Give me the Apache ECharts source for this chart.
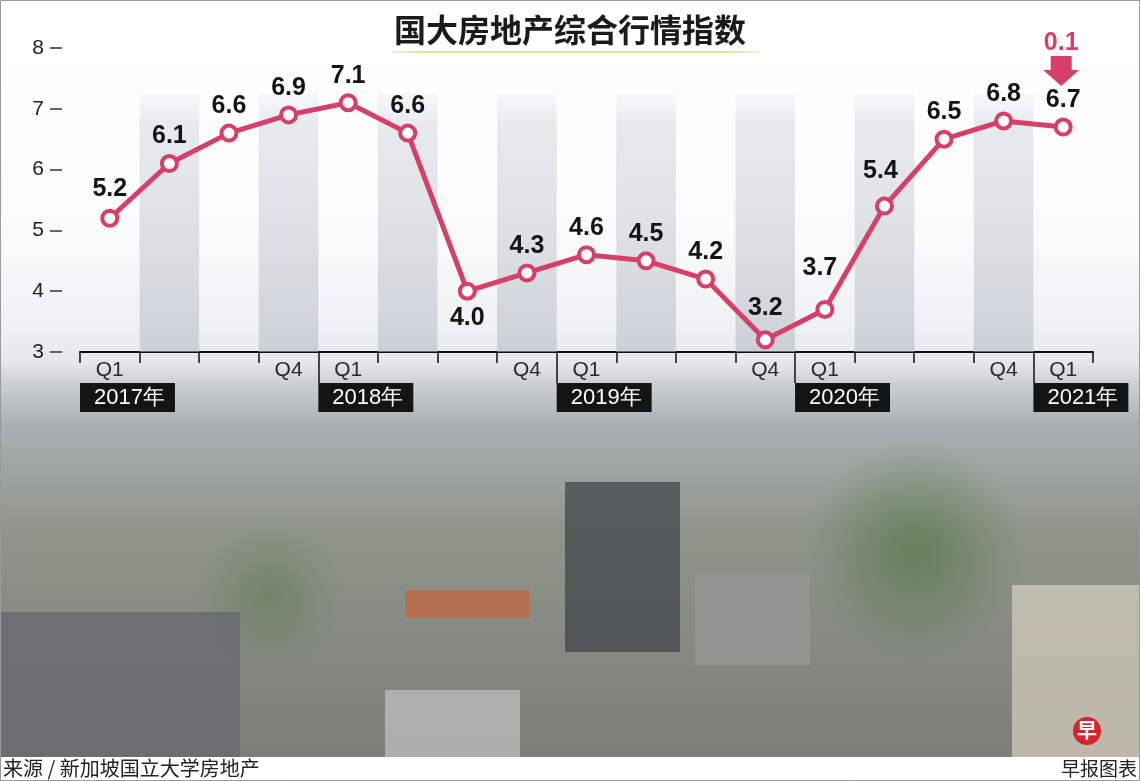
<!DOCTYPE html>
<html>
<head>
<meta charset="utf-8">
<script src="https://cdn.jsdelivr.net/npm/echarts@6/dist/echarts.min.js"></script>
<style>
html,body{margin:0;padding:0;background:#fff;}
#chart{width:1140px;height:781px;}
</style>
</head>
<body>
<div id="chart"></div>
<script>
// ---- data ----
const categories = ['2017 Q1','2017 Q2','2017 Q3','2017 Q4','2018 Q1','2018 Q2','2018 Q3','2018 Q4',
  '2019 Q1','2019 Q2','2019 Q3','2019 Q4','2020 Q1','2020 Q2','2020 Q3','2020 Q4','2021 Q1'];
const values = [5.2, 6.1, 6.6, 6.9, 7.1, 6.6, 4.0, 4.3, 4.6, 4.5, 4.2, 3.2, 3.7, 5.4, 6.5, 6.8, 6.7];
const quarterLabels = ['Q1','','','Q4','Q1','','','Q4','Q1','','','Q4','Q1','','','Q4','Q1'];
const yearLabels = ['2017年','2018年','2019年','2020年','2021年'];
const yTicks = [3, 4, 5, 6, 7, 8];
const bandTop = 7.26;
const titleText = '国大房地产综合行情指数';
const sourceText = '来源 / 新加坡国立大学房地产';
const creditText = '早报图表';

// ---- derived ----
const RED = '#d63f68';
const bandData = categories.map((c, i) => (i % 2 === 1 ? bandTop : '-'));
const yearStarts = yearLabels.map((y, i) => i * 4 - 0.5);
const yearDividers = yearStarts.slice(1);
const lastIdx = values.length - 1;
const change = (values[lastIdx - 1] - values[lastIdx]).toFixed(1);

const labelTweaks = {
  0: { distance: 7 },
  6: { position: 'bottom', distance: 5 },
  11: { distance: 10 },
  12: { distance: 19, offset: [-5, 0] },
  13: { distance: 13, offset: [-4, 0] }
};
const lineData = values.map((v, i) => {
  const item = { value: v };
  if (labelTweaks[i]) item.label = labelTweaks[i];
  return item;
});

const chart = echarts.init(document.getElementById('chart'), null, { renderer: 'canvas' });

const option = {
  animation: false,
  backgroundColor: '#ffffff',
  title: {
    text: titleText,
    left: 'center',
    top: 9,
    textStyle: { fontFamily: 'Noto Sans CJK SC', fontSize: 32, fontWeight: 'bold', color: '#1b1b1b' }
  },
  grid: { left: 80, right: 47, top: 48, bottom: 429, containLabel: false },
  xAxis: [
    {
      type: 'category',
      data: categories,
      boundaryGap: true,
      axisLine: { show: true, onZero: false, lineStyle: { color: '#111', width: 2 } },
      axisTick: { show: true, interval: 0, length: 11, lineStyle: { color: '#111', width: 1.5 } },
      axisLabel: {
        interval: 0, margin: 8,
        formatter: (v, i) => quarterLabels[i],
        fontFamily: 'Liberation Sans', fontSize: 21, color: '#2a2a2a'
      },
      splitLine: { show: false }
    },
    {
      type: 'value',
      position: 'bottom',
      min: -0.5,
      max: categories.length - 0.5,
      axisLine: { show: false, onZero: false },
      axisTick: { show: true, customValues: yearDividers, length: 31, lineStyle: { color: '#111', width: 1.5 } },
      axisLabel: {
        show: true,
        customValues: yearStarts,
        formatter: v => yearLabels[Math.round((v + 0.5) / 4)],
        align: 'left',
        margin: 31,
        color: '#ffffff',
        fontFamily: 'Liberation Sans',
        fontSize: 22,
        lineHeight: 23,
        backgroundColor: '#141414',
        padding: [3, 10, 3, 14]
      },
      splitLine: { show: false }
    }
  ],
  yAxis: {
    type: 'value',
    min: yTicks[0],
    max: yTicks[yTicks.length - 1],
    interval: 1,
    offset: 18,
    axisLine: { show: false, onZero: false },
    axisTick: { show: true, length: 12, lineStyle: { color: '#333', width: 1.5 } },
    axisLabel: { margin: 18, fontFamily: 'Liberation Sans', fontSize: 21, color: '#222' },
    splitLine: { show: false }
  },
  series: [
    {
      type: 'bar',
      data: bandData,
      barWidth: '100%',
      barGap: '-100%',
      silent: true,
      z: 1,
      itemStyle: {
        color: new echarts.graphic.LinearGradient(0, 0, 0, 1, [
          { offset: 0, color: 'rgba(215,219,226,0.15)' },
          { offset: 0.12, color: 'rgba(205,210,218,0.45)' },
          { offset: 1, color: 'rgba(178,185,196,0.55)' }
        ])
      }
    },
    {
      type: 'line',
      data: lineData,
      z: 5,
      symbol: 'circle',
      symbolSize: 15,
      lineStyle: { color: RED, width: 5 },
      itemStyle: { color: '#ffffff', borderColor: RED, borderWidth: 4 },
      label: {
        show: true, position: 'top', distance: 5,
        fontFamily: 'Liberation Sans', fontSize: 25, fontWeight: 'bold', color: '#141414',
        formatter: p => p.value.toFixed(1)
      },
      markPoint: {
        silent: true,
        data: [{
          coord: [categories[lastIdx], values[lastIdx]],
          symbol: 'path://M7.5,0 L28.5,0 L28.5,14 L36,14 L18,30 L0,14 L7.5,14 Z',
          symbolSize: [36, 30],
          symbolOffset: [-2, -56],
          itemStyle: { color: RED },
          label: {
            show: true, position: 'top', distance: 0,
            formatter: change,
            fontFamily: 'Liberation Sans', fontSize: 25, fontWeight: 'bold', color: RED
          }
        }]
      }
    }
  ],
  graphic: [
    // sky / photo backdrop
    {
      type: 'rect', z: -10, silent: true,
      shape: { x: 0, y: 0, width: 1140, height: 757 },
      style: {
        fill: new echarts.graphic.LinearGradient(0, 0, 0, 1, [
          { offset: 0, color: '#ffffff' },
          { offset: 0.3, color: '#fafbfb' },
          { offset: 0.43, color: '#f0f1f3' },
          { offset: 0.48, color: '#e4e6e9' },
          { offset: 0.505, color: '#cdd1d4' },
          { offset: 0.56, color: '#aab0b1' },
          { offset: 0.7, color: '#8f958b' },
          { offset: 1, color: '#7c7f79' }
        ])
      }
    },
    {
      type: 'rect', z: -9, silent: true,
      shape: { x: 690, y: 440, width: 450, height: 220 },
      style: {
        fill: new echarts.graphic.RadialGradient(0.5, 0.5, 0.5, [
          { offset: 0, color: 'rgba(70,110,55,0.55)' },
          { offset: 1, color: 'rgba(70,110,55,0)' }
        ])
      }
    },
    {
      type: 'rect', z: -9, silent: true,
      shape: { x: 60, y: 520, width: 420, height: 150 },
      style: {
        fill: new echarts.graphic.RadialGradient(0.5, 0.5, 0.5, [
          { offset: 0, color: 'rgba(80,115,60,0.4)' },
          { offset: 1, color: 'rgba(80,115,60,0)' }
        ])
      }
    },
    { type: 'rect', z: -8, silent: true, shape: { x: 565, y: 482, width: 115, height: 170 }, style: { fill: 'rgba(60,64,70,0.7)' } },
    { type: 'rect', z: -8, silent: true, shape: { x: 0, y: 612, width: 240, height: 145 }, style: { fill: 'rgba(105,107,110,0.85)' } },
    { type: 'rect', z: -8, silent: true, shape: { x: 1012, y: 585, width: 128, height: 172 }, style: { fill: 'rgba(205,198,184,0.8)' } },
    { type: 'rect', z: -8, silent: true, shape: { x: 405, y: 590, width: 125, height: 28 }, style: { fill: 'rgba(196,104,62,0.75)' } },
    { type: 'rect', z: -8, silent: true, shape: { x: 695, y: 575, width: 115, height: 90 }, style: { fill: 'rgba(150,152,150,0.75)' } },
    { type: 'rect', z: -8, silent: true, shape: { x: 385, y: 690, width: 135, height: 67 }, style: { fill: 'rgba(190,190,192,0.75)' } },
    // title underline
    {
      type: 'line', z: 10, silent: true,
      shape: { x1: 392, y1: 52, x2: 760, y2: 52 },
      style: {
        lineWidth: 2,
        stroke: new echarts.graphic.LinearGradient(0, 0, 1, 0, [
          { offset: 0, color: 'rgba(232,220,150,0.3)' },
          { offset: 0.1, color: '#e9dd9c' },
          { offset: 0.9, color: '#e9dd9c' },
          { offset: 1, color: 'rgba(232,220,150,0.3)' }
        ])
      }
    },
    // footer
    { type: 'rect', z: 10, silent: true, shape: { x: 0, y: 757, width: 1140, height: 24 }, style: { fill: '#ffffff' } },
    {
      type: 'text', z: 11, silent: true, left: 3, top: 758,
      style: { text: sourceText, fontFamily: 'Noto Sans CJK SC', fontSize: 20, fill: '#222' }
    },
    {
      type: 'text', z: 11, silent: true, right: 3, top: 759,
      style: { text: creditText, fontFamily: 'Noto Sans CJK SC', fontSize: 19, fill: '#222' }
    },
    // logo
    { type: 'circle', z: 11, silent: true, shape: { cx: 1087, cy: 731, r: 14 }, style: { fill: '#d6242d' } },
    {
      type: 'text', z: 12, silent: true, left: 1077, top: 720,
      style: { text: '早', fontFamily: 'Noto Sans CJK SC', fontSize: 20, fontWeight: 'bold', fill: '#fff' }
    },
    // frame
    {
      type: 'rect', z: 20, silent: true,
      shape: { x: 0.5, y: 0.5, width: 1139, height: 780 },
      style: { fill: 'none', stroke: '#9a9a9a', lineWidth: 1 }
    }
  ]
};

chart.setOption(option);
</script>
</body>
</html>
